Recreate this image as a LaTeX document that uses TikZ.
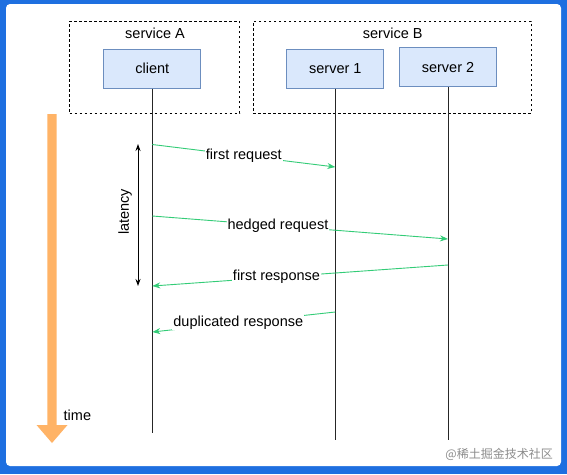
\documentclass[tikz,border=0pt]{standalone}
\usepackage{fontspec}
\setmainfont{Liberation Sans}
\newfontfamily\cjkfont{Noto Sans CJK SC}
\usetikzlibrary{arrows.meta}
\definecolor{frameblue}{HTML}{1E6FE0}
\definecolor{boxfill}{HTML}{DAE8FC}
\definecolor{boxline}{HTML}{6C8EBF}
\definecolor{msggreen}{HTML}{33CC77}
\definecolor{timeorange}{HTML}{FFB366}
\tikzset{
  svcbox/.style={draw, dashed, dash pattern=on 2.5pt off 2.5pt, line width=0.8pt, inner sep=0pt},
  partbox/.style={draw=boxline, fill=boxfill, line width=0.8pt, minimum width=97pt, minimum height=39pt, inner sep=0pt, font=\fontsize{14.5}{16}\selectfont},
  lbl/.style={font=\fontsize{14.5}{16}\selectfont, inner sep=1pt},
  lifeline/.style={draw=black!85, line width=0.9pt},
  msg/.style={draw=msggreen, line width=0.9pt, -{Stealth[length=8pt,width=6pt]}},
  msglbl/.style={font=\fontsize{14.5}{16}\selectfont, fill=white, inner sep=1pt}
}
\begin{document}
\begin{tikzpicture}[x=1pt,y=-1pt]
\useasboundingbox (0,0) rectangle (567,474);
\fill[frameblue] (0,0) rectangle (567,474);
\fill[white, rounded corners=4pt] (6,4) rectangle (561,466);
% service boxes
\node[svcbox, minimum width=170pt, minimum height=92pt] (svcA) at (154.5,67.3) {};
\node[svcbox, minimum width=278pt, minimum height=92pt] (svcB) at (392,67.3) {};
\node[lbl] (svcAlbl) at (155,33.3) {service A};
\node[lbl] (svcBlbl) at (392.7,33) {service B};
% participants
\node[partbox] (client) at (152.3,68.8) {client};
\node[partbox] (srv1) at (335.3,68.8) {server 1};
\node[partbox] (srv2) at (448,67.2) {server 2};
% lifeline ends
\coordinate (clientEnd) at (client.south |- 0,433);
\coordinate (srv1End) at (srv1.south |- 0,440);
\coordinate (srv2End) at (srv2.south |- 0,440);
\draw[lifeline] (client.south) -- (clientEnd);
\draw[lifeline] (srv1.south) -- (srv1End);
\draw[lifeline] (srv2.south) -- (srv2End);
% message points
\coordinate (m1s) at (client.south |- 0,144.5);
\coordinate (m1e) at (srv1.south |- 0,167);
\coordinate (m2s) at (client.south |- 0,216);
\coordinate (m2e) at (srv2.south |- 0,239);
\coordinate (m3s) at (srv2.south |- 0,265);
\coordinate (m3e) at (client.south |- 0,286);
\coordinate (m4s) at (srv1.south |- 0,312);
\coordinate (m4e) at (client.south |- 0,332);
\draw[msg] (m1s) -- node[msglbl, pos=0.5] {first request} (m1e);
\draw[msg] (m2s) -- node[msglbl, pos=0.425] {hedged request} (m2e);
\draw[msg] (m3s) -- node[msglbl, pos=0.58] {first response} (m3e);
\draw[msg] (m4s) -- node[msglbl, pos=0.53] {duplicated response} (m4e);
% latency
\coordinate (latTop) at (138,144);
\coordinate (latBot) at (138,286);
\draw[line width=0.9pt, {Stealth[length=7pt,width=5pt]}-{Stealth[length=7pt,width=5pt]}] (latTop) -- (latBot);
\node[lbl, rotate=90] (latency) at (125,212) {latency};
% time arrow
\fill[timeorange] (47.3,114) -- (56.7,114) -- (56.7,425) -- (67.5,425) -- (52,443) -- (36.5,425) -- (47.3,425) -- cycle;
\node[lbl, anchor=west] (time) at (62.5,415) {time};
% watermark
\node[font=\cjkfont\fontsize{12}{14}\selectfont, text=black!45, anchor=east, inner sep=0pt] (wm) at (553,454) {@稀土掘金技术社区};
\end{tikzpicture}
\end{document}
